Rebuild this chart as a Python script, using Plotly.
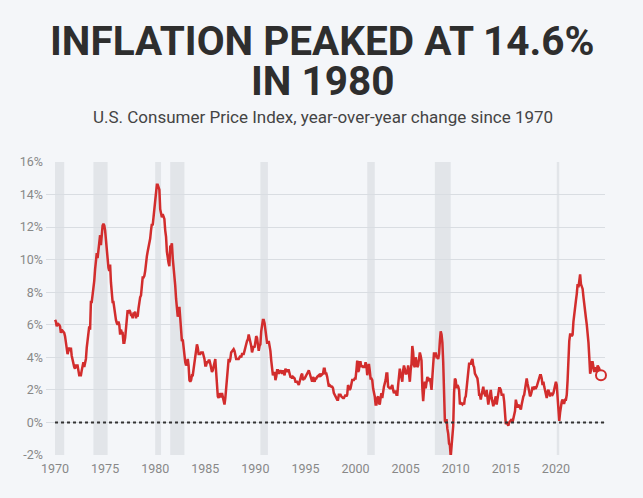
import plotly.graph_objects as go

# Monthly CPI-U year-over-year change (%), Jan of first year .. Dec of last year
cpi_1970s = [
    6.3, 6.2, 5.9, 6.1, 6.0, 6.0, 5.9, 5.5, 5.7, 5.6, 5.6, 5.5,   # 1970
    5.3, 5.0, 4.7, 4.2, 4.4, 4.6, 4.4, 4.6, 4.1, 3.8, 3.5, 3.4,   # 1971
    3.3, 3.5, 3.5, 3.5, 3.2, 2.9, 2.9, 2.9, 3.2, 3.4, 3.7, 3.4,   # 1972
    3.6, 3.9, 4.6, 5.1, 5.5, 5.9, 5.7, 7.4, 7.4, 7.8, 8.3, 8.7,   # 1973
    9.4, 10.0, 10.4, 10.1, 10.7, 10.9, 11.5, 10.9, 11.9, 12.1, 12.2, 12.1,  # 1974
    11.8, 11.2, 10.3, 10.2, 9.5, 9.3, 9.7, 8.6, 7.9, 7.4, 7.4, 6.9,  # 1975
    6.7, 6.3, 6.1, 6.0, 6.2, 6.0, 5.4, 5.7, 5.5, 5.5, 4.9, 4.9,   # 1976
    5.2, 6.0, 6.4, 6.9, 6.7, 6.9, 6.8, 6.6, 6.6, 6.4, 6.7, 6.7,   # 1977
    6.8, 6.4, 6.6, 6.5, 7.0, 7.4, 7.7, 7.8, 8.3, 8.9, 8.9, 9.0,   # 1978
    9.3, 9.9, 10.2, 10.5, 10.8, 10.9, 11.3, 11.8, 12.2, 12.1, 12.6, 13.3,  # 1979
]
cpi_1980s = [
    13.9, 14.2, 14.6, 14.6, 14.4, 14.3, 13.1, 12.9, 12.6, 12.8, 12.6, 12.5,  # 1980
    11.8, 11.4, 10.5, 10.0, 9.8, 9.6, 10.8, 10.8, 11.0, 10.1, 9.6, 8.9,  # 1981
    8.4, 7.6, 6.8, 6.5, 6.7, 7.1, 6.4, 5.9, 5.0, 5.1, 4.6, 3.8,   # 1982
    3.7, 3.5, 3.6, 3.9, 3.5, 2.6, 2.5, 2.6, 2.9, 2.9, 3.3, 3.8,   # 1983
    4.2, 4.6, 4.8, 4.6, 4.2, 4.2, 4.2, 4.3, 4.3, 4.3, 4.1, 3.9,   # 1984
    3.5, 3.5, 3.7, 3.7, 3.8, 3.8, 3.6, 3.3, 3.1, 3.2, 3.5, 3.8,   # 1985
    3.9, 3.1, 2.3, 1.6, 1.5, 1.8, 1.6, 1.6, 1.8, 1.5, 1.3, 1.1,   # 1986
    1.5, 2.1, 3.0, 3.8, 3.9, 3.7, 3.9, 4.3, 4.4, 4.5, 4.5, 4.4,   # 1987
    4.0, 3.9, 3.9, 3.9, 3.9, 4.0, 4.1, 4.0, 4.2, 4.2, 4.2, 4.4,   # 1988
    4.7, 4.8, 5.0, 5.1, 5.4, 5.2, 5.0, 4.7, 4.3, 4.5, 4.7, 4.6,   # 1989
]
cpi_1990s = [
    5.2, 5.3, 5.2, 4.7, 4.4, 4.7, 4.8, 5.6, 6.2, 6.3, 6.3, 6.1,   # 1990
    5.7, 5.3, 4.9, 4.9, 5.0, 4.7, 4.4, 3.8, 3.4, 2.9, 3.0, 3.1,   # 1991
    2.6, 2.8, 3.2, 3.2, 3.0, 3.1, 3.2, 3.1, 3.0, 3.2, 3.0, 2.9,   # 1992
    3.3, 3.2, 3.1, 3.2, 3.2, 3.0, 2.8, 2.8, 2.7, 2.8, 2.7, 2.7,   # 1993
    2.5, 2.5, 2.5, 2.4, 2.3, 2.5, 2.8, 2.9, 3.0, 2.6, 2.7, 2.7,   # 1994
    2.8, 2.9, 2.9, 3.1, 3.2, 3.0, 2.8, 2.6, 2.5, 2.8, 2.6, 2.5,   # 1995
    2.7, 2.7, 2.8, 2.9, 2.9, 2.8, 3.0, 2.9, 3.0, 3.0, 3.3, 3.3,   # 1996
    3.0, 3.0, 2.8, 2.5, 2.2, 2.3, 2.2, 2.2, 2.2, 2.1, 1.8, 1.7,   # 1997
    1.6, 1.4, 1.4, 1.4, 1.7, 1.7, 1.7, 1.6, 1.5, 1.5, 1.5, 1.6,   # 1998
    1.7, 1.6, 1.7, 2.3, 2.1, 2.0, 2.1, 2.3, 2.6, 2.6, 2.6, 2.7,   # 1999
]
cpi_2000s = [
    2.7, 3.2, 3.8, 3.1, 3.2, 3.7, 3.7, 3.4, 3.5, 3.4, 3.4, 3.4,   # 2000
    3.7, 3.5, 2.9, 3.3, 3.6, 3.2, 2.7, 2.7, 2.6, 2.1, 1.9, 1.6,   # 2001
    1.1, 1.1, 1.5, 1.6, 1.2, 1.1, 1.5, 1.8, 1.5, 2.0, 2.2, 2.4,   # 2002
    2.6, 3.0, 3.0, 2.2, 2.1, 2.1, 2.1, 2.2, 2.3, 2.0, 1.8, 1.9,   # 2003
    1.9, 1.7, 1.7, 2.3, 3.1, 3.3, 3.0, 2.7, 2.5, 3.2, 3.5, 3.3,   # 2004
    3.0, 3.0, 3.1, 3.5, 2.8, 2.5, 3.2, 3.6, 4.7, 4.3, 3.5, 3.4,   # 2005
    4.0, 3.6, 3.4, 3.5, 4.2, 4.3, 4.1, 3.8, 2.1, 1.3, 2.0, 2.5,   # 2006
    2.1, 2.4, 2.8, 2.6, 2.7, 2.7, 2.4, 2.0, 2.8, 3.5, 4.3, 4.1,   # 2007
    4.3, 4.0, 4.0, 3.9, 4.2, 5.0, 5.6, 5.4, 4.9, 3.7, 1.1, 0.1,   # 2008
    0.0, 0.2, -0.4, -0.7, -1.3, -1.4, -2.1, -1.5, -1.3, -0.2, 1.8, 2.7,  # 2009
]
cpi_2010s = [
    2.6, 2.1, 2.3, 2.2, 2.0, 1.1, 1.2, 1.1, 1.1, 1.2, 1.1, 1.5,   # 2010
    1.6, 2.1, 2.7, 3.2, 3.6, 3.6, 3.6, 3.8, 3.9, 3.5, 3.4, 3.0,   # 2011
    2.9, 2.9, 2.7, 2.3, 1.7, 1.7, 1.4, 1.7, 2.0, 2.2, 1.8, 1.7,   # 2012
    1.6, 2.0, 1.5, 1.1, 1.4, 1.8, 2.0, 1.5, 1.2, 1.0, 1.2, 1.5,   # 2013
    1.6, 1.1, 1.5, 2.0, 2.1, 2.1, 2.0, 1.7, 1.7, 1.7, 1.3, 0.8,   # 2014
    -0.1, 0.0, -0.1, -0.2, 0.0, 0.1, 0.2, 0.2, 0.0, 0.2, 0.5, 0.7,  # 2015
    1.4, 1.0, 0.9, 1.1, 1.0, 1.0, 0.8, 1.1, 1.5, 1.6, 1.7, 2.1,   # 2016
    2.5, 2.7, 2.4, 2.2, 1.9, 1.6, 1.7, 1.9, 2.2, 2.0, 2.2, 2.1,   # 2017
    2.1, 2.2, 2.4, 2.5, 2.8, 2.9, 2.9, 2.7, 2.3, 2.5, 2.2, 1.9,   # 2018
    1.6, 1.5, 1.9, 2.0, 1.8, 1.6, 1.8, 1.7, 1.7, 1.8, 2.1, 2.3,   # 2019
]
cpi_2020s = [
    2.5, 2.3, 1.5, 0.3, 0.1, 0.6, 1.0, 1.3, 1.4, 1.2, 1.2, 1.4,   # 2020
    1.4, 1.7, 2.6, 4.2, 5.0, 5.4, 5.4, 5.3, 5.4, 6.2, 6.8, 7.0,   # 2021
    7.5, 7.9, 8.5, 8.3, 8.6, 9.1, 8.5, 8.3, 8.2, 7.7, 7.1, 6.5,   # 2022
    6.4, 6.0, 5.0, 4.9, 4.0, 3.0, 3.2, 3.7, 3.7, 3.2, 3.1, 3.4,   # 2023
    3.1, 3.2, 3.5, 3.4, 3.3, 3.0, 2.9,                            # 2024
]

# NBER recessions (decimal years: start month, end month)
recession_starts = [1969 + 11 / 12, 1973 + 10 / 12, 1980.0, 1981 + 6 / 12,
                    1990 + 6 / 12, 2001 + 2 / 12, 2007 + 11 / 12, 2020 + 1 / 12]
recession_ends = [1970 + 11 / 12, 1975 + 3 / 12, 1980 + 7 / 12, 1982 + 11 / 12,
                  1991 + 3 / 12, 2001 + 11 / 12, 2009 + 6 / 12, 2020 + 4 / 12]

y_ticks = [-2, 0, 2, 4, 6, 8, 10, 12, 14, 16]
x_ticks = [1970, 1975, 1980, 1985, 1990, 1995, 2000, 2005, 2010, 2015, 2020]

values = cpi_1970s + cpi_1980s + cpi_1990s + cpi_2000s + cpi_2010s + cpi_2020s
years = [1970 + i / 12 for i in range(len(values))]

RED = "#d22d2d"
BG = "#f4f6f9"
FONT = "Roboto, sans-serif"

fig = go.Figure()

fig.add_trace(go.Scatter(
    x=years, y=values, mode="lines",
    line=dict(color=RED, width=2.5),
    hoverinfo="skip", showlegend=False,
))
fig.add_trace(go.Scatter(
    x=[years[-1]], y=[values[-1]], mode="markers", cliponaxis=False,
    marker=dict(size=10, color=BG, line=dict(color=RED, width=2)),
    hoverinfo="skip", showlegend=False,
))

shapes = []
for s, e in zip(recession_starts, recession_ends):
    shapes.append(dict(type="rect", xref="x", yref="y", x0=max(s, 1970.0), x1=e,
                       y0=-2, y1=16, fillcolor="#e2e5e9", line=dict(width=0),
                       layer="below"))
shapes.append(dict(type="line", xref="x", yref="y", x0=1970.0, x1=2024.9, y0=0, y1=0,
                   line=dict(color="#333333", width=2, dash="dot"), layer="above"))
fig.update_layout(shapes=shapes)

PLOT_TOP = 162

fig.update_layout(
    width=643, height=498,
    margin=dict(l=46, r=38, t=PLOT_TOP, b=43),
    paper_bgcolor=BG, plot_bgcolor=BG,
    font=dict(family=FONT, color="#888888", size=12),
    xaxis=dict(range=[1969.1, 2024.9], tickvals=x_ticks, ticktext=[str(t) for t in x_ticks],
               showgrid=False, zeroline=False, showline=False, ticks="",
               ticklabelstandoff=4,
               tickfont=dict(size=12.5, color="#888888")),
    yaxis=dict(range=[-2, 16], tickvals=y_ticks, ticktext=[f"{t}%" for t in y_ticks],
               showgrid=True, gridcolor="#d9dde2", gridwidth=1, zeroline=False,
               showline=False, ticks="", ticklabelstandoff=2,
               tickfont=dict(size=12.5, color="#888888")),
    annotations=[
        dict(text="<b>INFLATION PEAKED AT 14.6%</b>", xref="paper", yref="paper",
             x=0.5, y=1, xanchor="center", yanchor="middle", xshift=-3, yshift=PLOT_TOP - 41,
             showarrow=False, font=dict(family=FONT, size=40.5, color="#2e2e2e")),
        dict(text="<b>IN 1980</b>", xref="paper", yref="paper",
             x=0.5, y=1, xanchor="center", yanchor="middle", xshift=-3, yshift=PLOT_TOP - 81,
             showarrow=False, font=dict(family=FONT, size=40.5, color="#2e2e2e")),
        dict(text="U.S. Consumer Price Index, year-over-year change since 1970", xref="paper",
             yref="paper", x=0.5, y=1, xanchor="center", yanchor="middle", xshift=-3,
             yshift=PLOT_TOP - 117, showarrow=False,
             font=dict(family=FONT, size=17, color="#444444")),
    ],
)

fig.write_html(
    "out.html",
    config={"displayModeBar": False},
    post_script="document.body.style.margin='0';document.body.style.background='#f4f6f9';"
                "document.documentElement.style.background='#f4f6f9';",
)
